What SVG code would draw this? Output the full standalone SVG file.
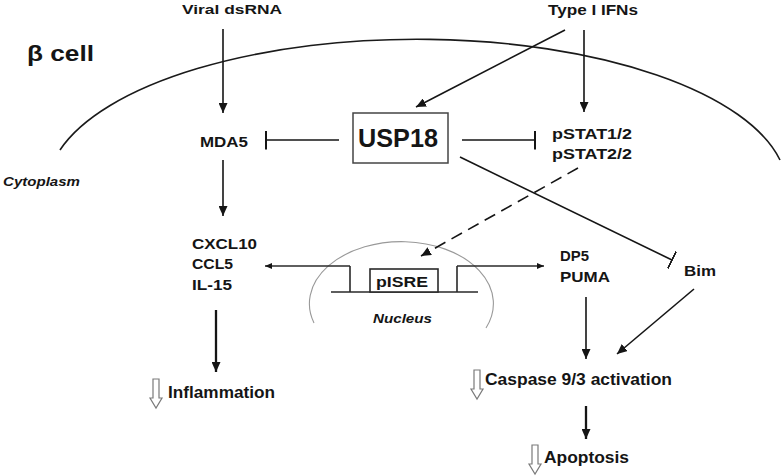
<svg xmlns="http://www.w3.org/2000/svg" width="783" height="476" viewBox="0 0 783 476">
<style>
.t{font-family:"Liberation Sans",Arial,sans-serif;font-weight:bold;fill:#151515}
.i{font-style:italic}
.ln{stroke:#151515;stroke-width:1.6;fill:none}
.thk{stroke:#151515;stroke-width:2.3;fill:none}
.gene{stroke:#2a2a2a;stroke-width:1.6;fill:none}
.hollow{fill:#fff;stroke:#7a7a7a;stroke-width:1.2}
</style>
<defs>
<marker id="arr" markerUnits="userSpaceOnUse" markerWidth="10" markerHeight="9" viewBox="0 0 10 9" refX="10" refY="4.5" orient="auto"><path d="M0,0 L10,4.5 L0,9 z" fill="#151515"/></marker>
<marker id="arrS" markerUnits="userSpaceOnUse" markerWidth="7" markerHeight="6" viewBox="0 0 7 6" refX="7" refY="3" orient="auto"><path d="M0,0 L7,3 L0,6 z" fill="#151515"/></marker>
<marker id="bar" markerUnits="userSpaceOnUse" markerWidth="2" markerHeight="19" viewBox="0 0 2 19" refX="1" refY="9.5" orient="auto"><rect x="0" y="0" width="2" height="19" fill="#151515"/></marker>
<path id="down" class="hollow" d="M3,0 H9 V19 H12 L6,29 L0,19 H3 Z"/>
</defs>

<g id="membrane"><path d="M60,150 A370,150 0 0 1 780,160" stroke="#1a1a1a" stroke-width="1.6" fill="none"/></g>
<g id="nucleus-envelope"><path d="M314,323 A92,62 0 1 1 486,328" stroke="#999" stroke-width="1.1" fill="none"/></g>

<g id="labels">
<text class="t" x="27" y="61" font-size="22" textLength="67" lengthAdjust="spacingAndGlyphs">β cell</text>
<text class="t i" x="3" y="186" font-size="12" textLength="77" lengthAdjust="spacingAndGlyphs">Cytoplasm</text>
<text class="t i" x="373" y="323" font-size="12.5" textLength="59" lengthAdjust="spacingAndGlyphs">Nucleus</text>
</g>

<g id="viral-dsrna"><text class="t" x="182" y="14" font-size="13.5" textLength="100" lengthAdjust="spacingAndGlyphs">Viral dsRNA</text></g>
<g id="type-i-ifns"><text class="t" x="548" y="14.5" font-size="14" textLength="90" lengthAdjust="spacingAndGlyphs">Type I IFNs</text></g>
<g id="mda5"><text class="t" x="200" y="147" font-size="14" textLength="48" lengthAdjust="spacingAndGlyphs">MDA5</text></g>
<g id="usp18">
<rect x="353" y="113" width="95" height="50" fill="#fff" stroke="#444" stroke-width="1.5"/>
<text class="t" x="358" y="147" font-size="26" textLength="80" lengthAdjust="spacingAndGlyphs">USP18</text>
</g>
<g id="pstat">
<text class="t" x="552" y="139" font-size="15" textLength="80" lengthAdjust="spacingAndGlyphs">pSTAT1/2</text>
<text class="t" x="552" y="159" font-size="15" textLength="80" lengthAdjust="spacingAndGlyphs">pSTAT2/2</text>
</g>
<g id="cytokines">
<text class="t" x="192" y="249" font-size="15" textLength="65" lengthAdjust="spacingAndGlyphs">CXCL10</text>
<text class="t" x="192" y="269" font-size="15" textLength="41" lengthAdjust="spacingAndGlyphs">CCL5</text>
<text class="t" x="192" y="290" font-size="15" textLength="40" lengthAdjust="spacingAndGlyphs">IL-15</text>
</g>
<g id="pisre">
<path class="gene" d="M331,292 H478 M350,266 V292 M457,266 V292"/>
<rect x="370" y="269" width="68" height="23" fill="#fff" stroke="#2a2a2a" stroke-width="1.6"/>
<text class="t" x="376" y="287" font-size="15" textLength="52" lengthAdjust="spacingAndGlyphs">pISRE</text>
</g>
<g id="dp5-puma">
<text class="t" x="560" y="261" font-size="14" textLength="29" lengthAdjust="spacingAndGlyphs">DP5</text>
<text class="t" x="560" y="282" font-size="14" textLength="50" lengthAdjust="spacingAndGlyphs">PUMA</text>
</g>
<g id="bim"><text class="t" x="684" y="276" font-size="14" textLength="32" lengthAdjust="spacingAndGlyphs">Bim</text></g>
<g id="inflammation">
<use href="#down" x="150" y="379"/>
<text class="t" x="168" y="398" font-size="16" textLength="107" lengthAdjust="spacingAndGlyphs">Inflammation</text>
</g>
<g id="caspase">
<use href="#down" x="471" y="370"/>
<text class="t" x="485" y="385" font-size="16" textLength="187" lengthAdjust="spacingAndGlyphs">Caspase 9/3 activation</text>
</g>
<g id="apoptosis">
<use href="#down" x="529" y="445"/>
<text class="t" x="544" y="463" font-size="16" textLength="85" lengthAdjust="spacingAndGlyphs">Apoptosis</text>
</g>

<g id="connectors">
<line class="ln" x1="223" y1="29" x2="223" y2="113" marker-end="url(#arr)"/>
<line class="ln" x1="223" y1="160" x2="223" y2="216" marker-end="url(#arr)"/>
<line class="ln" x1="584" y1="30" x2="584" y2="112" marker-end="url(#arr)"/>
<line class="ln" x1="565" y1="30" x2="416" y2="107" marker-end="url(#arr)"/>
<line class="ln" x1="339" y1="140" x2="266" y2="140" marker-end="url(#bar)"/>
<line class="ln" x1="462" y1="140" x2="535" y2="140" marker-end="url(#bar)"/>
<line class="ln" x1="460" y1="157" x2="672" y2="260" marker-end="url(#bar)"/>
<line class="ln" x1="578" y1="168" x2="421" y2="256" stroke-dasharray="12,7" marker-end="url(#arr)"/>
<line class="gene" x1="350" y1="266" x2="265" y2="266" marker-end="url(#arrS)"/>
<line class="gene" x1="457" y1="266" x2="544" y2="266" marker-end="url(#arrS)"/>
<line class="thk" x1="216" y1="310" x2="216" y2="372" marker-end="url(#arr)"/>
<line class="ln" x1="586" y1="297" x2="586" y2="359" marker-end="url(#arr)"/>
<line class="ln" x1="694" y1="289" x2="617" y2="354" marker-end="url(#arr)"/>
<line class="thk" x1="586" y1="406" x2="586" y2="439" marker-end="url(#arr)"/>
</g>
</svg>
